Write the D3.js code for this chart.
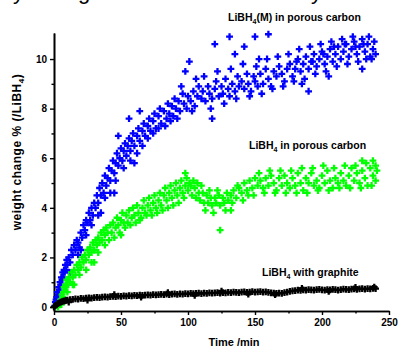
<!DOCTYPE html>
<html><head><meta charset="utf-8">
<script src="https://cdn.jsdelivr.net/npm/d3@7"></script>
<style>
html,body{margin:0;padding:0;background:#fff;}
svg{display:block;}
text{font-family:"Liberation Sans Narrow","Liberation Sans",Arial,sans-serif;}
</style></head>
<body><svg id="chart" width="398" height="349"></svg>
<script>
// ---- data ----
const xTicks = [0, 50, 100, 150, 200, 250];
const yTicks = [0, 2, 4, 6, 8, 10];
const xTitle = "Time /min";
const yTitle = "weight change % (/LiBH4)";
const seriesNames = ["LiBH4(M) in porous carbon", "LiBH4 in porous carbon", "LiBH4 with graphite"];

const bluePoints = [
[0.5,0.05],[1,0.2],[1.5,0.3],[2,0.4],[2.5,0.6],[3,0.5],[3.5,0.8],[4,0.7],[4.5,1.0],[5,0.9],[5.5,1.2],[6,1.1],[6.5,1.4],[7,1.2],[7.5,1.5],[8,1.4],[8.5,1.7],[9,1.5],[9.5,1.9],[10,1.7],
[11,2.0],[12,1.8],[13,2.3],[14,2.1],[15,2.5],[16,2.3],[17,2.7],[18,2.6],[19,2.4],[20,3.0],[21,2.8],[22,3.3],[23,3.1],[24,3.5],[25,3.4],[26,3.8],[27,3.5],[28,4.0],[29,3.7],[30,4.2],
[31,4.0],[32,4.5],[33,4.2],[34,4.8],[35,4.5],[36,5.0],[37,4.6],[38,5.3],[39,4.9],[40,5.2],[41,5.6],[42,5.1],[43,5.5],[44,5.9],[45,5.4],[46,5.8],[47,6.2],[48,5.7],[49,6.0],[50,6.4],
[51,5.9],[52,6.3],[53,6.6],[54,6.1],[55,6.5],[56,6.8],[57,6.3],[58,6.7],[59,7.0],[60,6.5],[62,6.9],[63,7.2],[64,6.7],[66,7.1],[67,7.4],[68,6.9],[70,7.3],[71,7.6],[72,7.1],[74,7.5],
[75,7.8],[76,7.2],[78,7.7],[79,8.0],[80,7.4],[82,7.9],[84,7.6],[85,8.2],[86,7.8],[88,8.1],[89,7.7],[90,8.4],[91,8.0],[93,8.3],[94,7.9],[96,8.6],[97,8.2],[99,8.0],[100,8.5],[102,8.3],
[104,8.7],[105,8.1],[107,8.5],[108,8.9],[110,8.4],[111,8.7],[113,8.3],[115,8.9],[116,8.6],[118,8.4],[120,8.8],[121,9.1],[123,8.5],[125,8.9],[126,8.6],[128,9.2],[130,8.8],[131,8.5],[133,9.0],[135,8.7],
[137,9.3],[138,8.9],[140,9.1],[142,8.8],[144,9.4],[145,9.0],[147,8.7],[149,9.3],[150,9.1],[152,8.9],[154,9.4],[156,9.0],[158,9.6],[160,9.2],[162,8.9],[164,9.5],[166,9.3],[168,9.7],[170,9.4],[172,9.1],
[174,9.6],[176,9.8],[178,9.3],[180,9.6],[182,10.0],[184,9.5],[186,9.8],[188,10.1],[190,9.6],[192,9.9],[194,10.2],[196,9.7],[198,10.0],[200,10.3],[202,9.8],[204,10.1],[206,10.4],[208,9.9],[210,10.2],[212,10.5],
[214,10.0],[216,10.3],[218,10.6],[220,10.1],[222,10.4],[224,10.7],[226,10.2],[228,10.5],[230,10.8],[232,10.3],[234,10.6],[236,10.1],[238,10.4],[240,10.2],
[56,7.6],[48,6.9],[64,7.9],[98,9.5],[101,9.9],[120,10.6],[131,10.9],[135,10.2],[142,10.5],[150,10.9],[153,10.0],[160,11.0],[185,9.0],[190,8.7],[205,9.3],[230,9.6],[118,7.6],[60,5.8],[35,3.8],[20,2.3],[45,4.6],
[12,1.4],[18,2.1],[24,2.9],[28,3.3],[33,3.7],[38,4.4],[42,4.6],[46,5.1],[52,5.6],[57,5.9],[62,6.2],[66,6.5],[70,6.8],[74,7.0],[78,7.2],[83,7.3],[87,7.5],[92,7.6],[95,8.9],[103,7.9],
[106,9.2],[112,9.3],[117,8.0],[122,9.5],[127,8.2],[132,9.6],[136,8.4],[141,9.8],[146,8.5],[151,9.7],[155,8.6],[159,10.0],[163,8.8],[167,10.1],[171,8.9],[175,10.2],[179,9.1],[183,10.4],[187,9.2],[191,10.5],
[195,9.4],[199,10.6],[203,9.5],[207,10.7],[211,9.7],[215,10.8],[219,9.8],[223,10.9],[227,9.9],[231,10.6],[235,10.9],[237,10.0],[239,10.7],[233,10.0],[225,10.5],[217,10.6],[209,10.5],[201,10.2],[193,9.9],[181,9.9]
];

const greenPoints = [
[3,0.0],[4,0.2],[5,0.3],[5.5,0.1],[6,0.5],[6.5,0.4],[7,0.6],[7.5,0.8],[8,0.7],[8.5,0.9],[9,0.8],[9.5,1.1],[10,0.9],[11,1.2],[12,1.0],[13,1.4],[14,1.2],[15,1.5],[16,1.3],[17,1.7],
[18,1.5],[19,1.8],[20,1.6],[21,2.0],[22,1.8],[23,2.1],[24,1.9],[25,2.3],[26,2.1],[27,2.4],[28,2.2],[29,2.6],[30,2.3],[31,2.7],[32,2.5],[33,2.8],[34,2.6],[35,3.0],[36,2.7],[37,3.1],
[38,2.9],[39,3.2],[40,3.0],[42,3.3],[43,3.0],[44,3.4],[46,3.2],[47,3.6],[48,3.3],[50,3.5],[51,3.8],[52,3.4],[54,3.7],[55,3.4],[56,3.9],[58,3.6],[59,4.0],[60,3.7],[62,4.1],[63,3.8],
[64,3.5],[66,4.0],[67,4.3],[68,3.8],[70,4.1],[71,4.4],[72,3.9],[74,4.2],[75,4.5],[76,4.0],[78,4.3],[79,4.6],[80,4.1],[82,4.5],[83,4.8],[84,4.3],[86,4.6],[87,4.9],[88,4.4],[90,4.7],
[91,5.0],[92,4.5],[94,4.8],[95,5.1],[96,4.6],[98,4.9],[99,5.2],[100,4.7],[102,4.9],[103,4.5],[105,4.8],[106,4.4],[108,4.6],[109,4.3],[111,4.6],[112,4.2],[114,4.5],[115,4.2],[117,4.4],[118,4.1],
[120,4.4],[121,4.2],[123,4.5],[124,4.1],[126,4.4],[127,4.2],[129,4.6],[130,4.3],[132,4.5],[134,4.7],[136,4.4],[138,4.8],[140,4.6],[142,5.0],[144,4.7],[146,5.1],[148,4.8],[150,5.2],[152,4.9],[154,5.1],
[156,4.8],[158,5.2],[160,4.9],[162,5.3],[164,5.0],[166,4.7],[168,5.2],[170,4.9],[172,5.3],[174,5.0],[176,4.8],[178,5.2],[180,4.9],[182,5.4],[184,5.0],[186,4.7],[188,5.2],[190,5.0],[192,5.4],[194,4.9],
[196,5.1],[198,4.8],[200,5.3],[202,5.0],[204,5.5],[206,5.1],[208,4.8],[210,5.2],[212,5.0],[214,5.4],[216,5.1],[218,4.9],[220,5.3],[222,5.6],[224,5.1],[226,5.4],[228,5.0],[230,5.5],[232,5.2],[234,4.9],
[236,5.6],[238,5.3],[240,5.1],[241,5.5],
[124,3.1],[132,3.9],[230,5.9],[238,5.9],[98,5.4],[30,1.8],[15,0.9],[50,2.9],
[10,0.6],[14,0.9],[19,1.3],[24,1.5],[28,1.8],[33,2.2],[38,2.5],[41,2.7],[45,2.8],[49,3.0],[53,3.2],[57,3.3],[61,3.4],[65,3.6],[69,3.7],[73,3.7],[77,3.8],[81,3.9],[85,4.0],[89,4.1],
[93,4.2],[97,4.4],[101,5.0],[104,5.1],[107,5.0],[110,4.9],[113,3.9],[116,4.7],[119,3.8],[122,4.7],[128,3.9],[133,4.2],[137,4.9],[141,4.3],[145,4.5],[149,4.5],[153,5.4],[157,4.6],[161,5.5],[165,4.6],
[169,5.5],[173,4.6],[177,5.5],[181,4.6],[185,5.6],[189,4.6],[193,5.6],[197,4.7],[201,5.7],[205,4.7],[209,5.6],[213,4.8],[217,5.7],[221,4.8],[225,5.7],[229,4.8],[233,5.8],[237,4.9],[240,5.7]
];

const blackPoints = [
[0,0.0],[1,0.05],[2,0.1],[3,0.15],[4,0.17],[5,0.2],[6,0.22],[7,0.24],[8,0.25],[9,0.27],[10,0.28],[12,0.3],[14,0.31],[16,0.33],[18,0.32],[20,0.35],[22,0.34],[24,0.36],[26,0.37],[28,0.36],
[30,0.38],[32,0.39],[34,0.38],[36,0.4],[38,0.41],[40,0.4],[42,0.42],[44,0.43],[46,0.42],[48,0.44],[50,0.43],[52,0.45],[54,0.44],[56,0.46],[58,0.45],[60,0.47],[62,0.46],[64,0.48],[66,0.47],[68,0.48],
[70,0.49],[72,0.48],[74,0.5],[76,0.49],[78,0.5],[80,0.51],[82,0.5],[84,0.52],[86,0.5],[88,0.52],[90,0.53],[92,0.51],[94,0.53],[96,0.52],[98,0.54],[100,0.53],[102,0.55],[104,0.54],[106,0.55],[108,0.56],
[110,0.54],[112,0.56],[114,0.55],[116,0.57],[118,0.56],[120,0.57],[122,0.58],[124,0.56],[126,0.58],[128,0.57],[130,0.59],[132,0.58],[134,0.6],[136,0.59],[138,0.58],[140,0.6],[142,0.61],[144,0.59],[146,0.6],[148,0.62],
[150,0.6],[152,0.61],[154,0.62],[156,0.6],[158,0.61],[160,0.59],[162,0.57],[164,0.56],[166,0.55],[168,0.56],[170,0.55],[172,0.58],[174,0.6],[176,0.63],[178,0.65],[180,0.66],[182,0.68],[184,0.67],[186,0.69],[188,0.68],
[190,0.7],[192,0.69],[194,0.68],[196,0.7],[198,0.71],[200,0.69],[202,0.68],[204,0.7],[206,0.69],[208,0.71],[210,0.7],[212,0.68],[214,0.7],[216,0.72],[218,0.71],[220,0.7],[222,0.72],[224,0.73],[226,0.71],[228,0.73],
[230,0.74],[232,0.72],[234,0.74],[236,0.73],[238,0.75],[240,0.74],
[11,0.2],[25,0.28],[45,0.5],[65,0.4],[85,0.58],[105,0.47],[125,0.64],[145,0.52],[165,0.5],[185,0.75],[205,0.63],[225,0.79],[239,0.8]
];

// ---- chart ----
const svg = d3.select("#chart");
const x = d3.scaleLinear().domain([0, 250]).range([54, 389]);
const y = d3.scaleLinear().domain([-0.16, 11.05]).range([311, 33]);

// caption text of the page above the figure, cut off by the top edge as in the reference
const capFont = "'Liberation Sans',Arial,sans-serif";
svg.append("text").attr("x", 24).attr("y", -1).attr("text-anchor", "end")
  .style("font-family", capFont).style("font-size", "22px").text("ly");
svg.append("text").attr("x", 45).attr("y", -1)
  .style("font-family", capFont).style("font-size", "22px").text("weight");
svg.append("text").attr("x", 322).attr("y", -1).attr("text-anchor", "end")
  .style("font-family", capFont).style("font-size", "22px").text("only");

// axes
const axisStyle = g => {
  g.selectAll("path.domain").attr("stroke", "#000").attr("stroke-width", 1.6);
  g.selectAll(".tick line").attr("stroke", "#000").attr("stroke-width", 1.4);
  g.selectAll(".tick text").style("font-size", "10px").style("font-weight", "bold").attr("fill", "#000");
};
const minorX = d3.range(25, 250, 50);
const minorY = d3.range(1, 11, 2);

svg.append("g").attr("transform", "translate(0,311)")
  .call(d3.axisBottom(x).tickValues(minorX).tickSize(2.5).tickSizeOuter(0).tickFormat(""))
  .call(axisStyle);
svg.append("g").attr("transform", "translate(0,311)")
  .call(d3.axisBottom(x).tickValues(xTicks).tickSize(4).tickSizeOuter(0).tickPadding(4).tickFormat(d3.format("d")))
  .call(axisStyle);
svg.append("g").attr("transform", "translate(54,0)")
  .call(d3.axisLeft(y).tickValues(minorY).tickSize(2.5).tickSizeOuter(0).tickFormat(""))
  .call(axisStyle);
svg.append("g").attr("transform", "translate(54,0)")
  .call(d3.axisLeft(y).tickValues(yTicks).tickSize(4).tickSizeOuter(0).tickPadding(3).tickFormat(d3.format("d")))
  .call(axisStyle);

// axis titles
svg.append("text").attr("x", 234).attr("y", 346).attr("text-anchor", "middle")
  .style("font-size", "11px").style("font-weight", "bold").text(xTitle);
const yt = svg.append("text").attr("transform", "translate(21,152) rotate(-90)").attr("text-anchor", "middle")
  .style("font-size", "12px").style("font-weight", "bold").style("letter-spacing", "0.5px");
yt.append("tspan").text("weight change % (/LiBH");
yt.append("tspan").attr("dy", 3).style("font-size", "8px").text("4");
yt.append("tspan").attr("dy", -3).text(")");

// series
const sym = d3.symbol().type(d3.symbolCross);
function drawSeries(data, color, size) {
  svg.append("g").selectAll("path").data(data).join("path")
    .attr("transform", d => `translate(${x(d[0])},${y(d[1])})`)
    .attr("d", sym.size(size)())
    .attr("fill", color);
}
drawSeries(bluePoints, "#0000ff", 26);
drawSeries(greenPoints, "#00ff00", 26);
drawSeries(blackPoints, "#000000", 26);

// series labels
function label(xp, yp, pre, post) {
  const t = svg.append("text").attr("x", xp).attr("y", yp)
    .style("font-size", "10.5px").style("font-weight", "bold");
  t.append("tspan").text(pre);
  t.append("tspan").attr("dy", 3).style("font-size", "7px").text("4");
  t.append("tspan").attr("dy", -3).text(post);
}
label(228, 21, "LiBH", "(M) in porous carbon");
label(249, 149, "LiBH", " in porous carbon");
label(262, 276, "LiBH", " with graphite");
</script></body></html>
